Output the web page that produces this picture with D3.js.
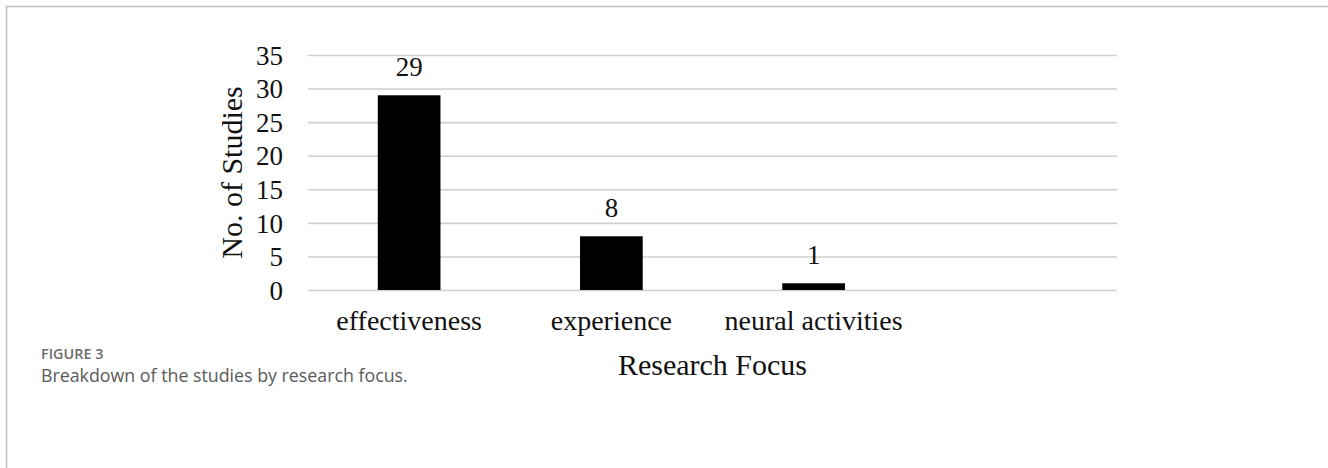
<!DOCTYPE html>
<html>
<head>
<meta charset="utf-8">
<script src="https://cdn.jsdelivr.net/npm/d3@7"></script>
<style>
  html, body { margin: 0; padding: 0; background: #fff; }
  svg { display: block; }
</style>
</head>
<body>
<svg id="fig" width="1328" height="468"></svg>
<script>
// Research focus categories and number of studies in each
const categories = ["effectiveness", "experience", "neural activities"];
const studyCounts = [29, 8, 1];
// The category axis keeps one extra, unused slot on the right
const axisSlots = ["effectiveness", "experience", "neural activities", " "];
const yTicks = [0, 5, 10, 15, 20, 25, 30, 35];
const yTitle = "No. of Studies";
const xTitle = "Research Focus";
const figureLabel = "FIGURE 3";
const figureCaption = "Breakdown of the studies by research focus.";

const svg = d3.select("#fig");
const W = 1328, H = 468;

// Figure frame (top and left rules)
svg.append("path")
  .attr("d", `M${W},6.5 H6.5 V${H}`)
  .attr("fill", "none")
  .attr("stroke", "#bdbdbd")
  .attr("stroke-width", 1.5);

const plot = { left: 308, right: 1117, top: 55, bottom: 290 };
const serif = "'Liberation Serif', 'Times New Roman', serif";

const x = d3.scaleBand()
  .domain(axisSlots)
  .range([plot.left, plot.right])
  .paddingInner(0.69)
  .paddingOuter(0.345);

const y = d3.scaleLinear()
  .domain([0, 35])
  .range([plot.bottom, plot.top]);

// Horizontal gridlines
const yAxis = d3.axisLeft(y)
  .tickValues(yTicks)
  .tickSize(-(plot.right - plot.left))
  .tickPadding(25)
  .tickFormat(d3.format("d"));

const gy = svg.append("g")
  .attr("transform", `translate(${plot.left},0)`)
  .call(yAxis);
gy.select(".domain").remove();
gy.selectAll(".tick line")
  .attr("stroke", "#cfcfcf")
  .attr("stroke-width", 1.6);
gy.selectAll(".tick text")
  .attr("fill", "#111")
  .attr("font-family", serif)
  .attr("font-size", 27)
  .attr("dy", "0.34em");

// Bars
svg.append("g").selectAll("rect")
  .data(categories)
  .join("rect")
  .attr("x", d => x(d))
  .attr("width", x.bandwidth())
  .attr("y", (d, i) => y(studyCounts[i]))
  .attr("height", (d, i) => y(0) - y(studyCounts[i]))
  .attr("fill", "#000");

// Value labels above bars
svg.append("g").selectAll("text")
  .data(categories)
  .join("text")
  .attr("x", d => x(d) + x.bandwidth() / 2)
  .attr("y", (d, i) => y(studyCounts[i]) - 19)
  .attr("text-anchor", "middle")
  .attr("font-family", serif)
  .attr("font-size", 27)
  .attr("fill", "#111")
  .text((d, i) => studyCounts[i]);

// Category axis (labels only)
const xAxis = d3.axisBottom(x).tickSize(0).tickPadding(0);
const gx = svg.append("g")
  .attr("transform", `translate(0,${plot.bottom})`)
  .call(xAxis);
gx.select(".domain").remove();
gx.selectAll(".tick text")
  .attr("fill", "#111")
  .attr("font-family", serif)
  .attr("font-size", 28)
  .attr("dy", 0)
  .attr("y", 40);

// Axis titles
svg.append("text")
  .attr("x", (plot.left + plot.right) / 2)
  .attr("y", 375)
  .attr("text-anchor", "middle")
  .attr("font-family", serif)
  .attr("font-size", 30)
  .attr("fill", "#111")
  .text(xTitle);

svg.append("text")
  .attr("transform", `translate(242,${(plot.top + plot.bottom) / 2}) rotate(-90)`)
  .attr("text-anchor", "middle")
  .attr("font-family", serif)
  .attr("font-size", 30)
  .attr("fill", "#111")
  .text(yTitle);

// Figure caption
svg.append("text")
  .attr("x", 41)
  .attr("y", 359)
  .attr("font-family", "'Open Sans', sans-serif")
  .attr("font-weight", 600)
  .attr("font-size", 14.4)
  .attr("fill", "#6b6b6b")
  .text(figureLabel);

svg.append("text")
  .attr("x", 41)
  .attr("y", 382)
  .attr("font-family", "'Open Sans', sans-serif")
  .attr("font-size", 17.8)
  .attr("fill", "#5a5a5a")
  .text(figureCaption);
</script>
</body>
</html>
